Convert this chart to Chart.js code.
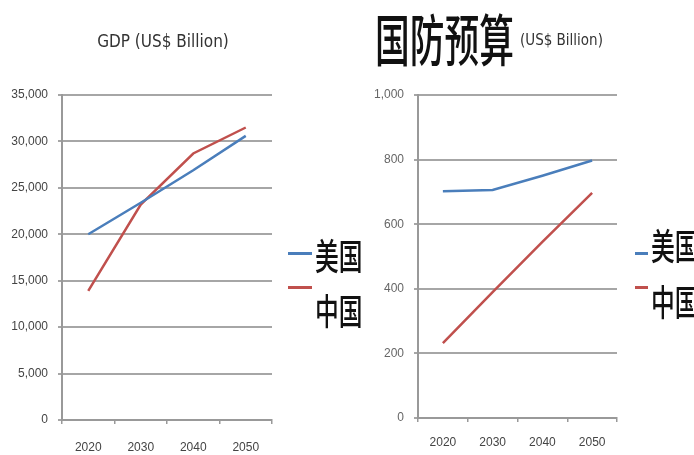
<!DOCTYPE html>
<html>
<head>
<meta charset="utf-8">
<script src="https://cdn.jsdelivr.net/npm/chart.js@4.4.1/dist/chart.umd.min.js"></script>
<style>
  html, body { margin:0; padding:0; width:694px; height:455px; overflow:hidden; background:#fff; }
  .abs { position:absolute; }
  #c1wrap { left:0; top:0; width:350px; height:455px; }
  #c2wrap { left:350px; top:0; width:344px; height:455px; }
  .narrow { font-family:'Liberation Sans Narrow','DejaVu Sans Condensed','Liberation Sans',sans-serif; }
  .cjk { font-family:'Noto Sans CJK SC','Noto Sans CJK JP',sans-serif; line-height:1; white-space:nowrap; transform-origin:left top; }
  .lg { height:3px; width:24px; }
</style>
</head>
<body>
<div id="c1wrap" class="abs"><canvas id="c1" width="350" height="455"></canvas></div>
<div id="c2wrap" class="abs"><canvas id="c2" width="344" height="455"></canvas></div>

<div class="abs narrow" style="left:0;width:326px;top:31px;text-align:center;font-size:17px;color:#333;">GDP (US$ Billion)</div>
<div class="abs cjk" style="left:375px;top:9px;font-size:56px;font-weight:500;color:#111;transform:scaleX(0.62);">国防预算</div>
<div class="abs narrow" style="left:520px;top:31px;font-size:15px;color:#333;">(US$ Billion)</div>

<div class="abs lg" style="left:288px;top:252px;background:#4A7EBB;"></div>
<div class="abs cjk" style="left:315px;top:236px;font-size:36px;font-weight:500;color:#111;transform:scaleX(0.66);">美国</div>
<div class="abs lg" style="left:288px;top:286px;background:#C0504D;"></div>
<div class="abs cjk" style="left:315px;top:291px;font-size:36px;font-weight:500;color:#111;transform:scaleX(0.66);">中国</div>

<div class="abs lg" style="left:635px;top:252px;width:13px;background:#4A7EBB;"></div>
<div class="abs cjk" style="left:651px;top:226px;font-size:36px;font-weight:500;color:#111;transform:scaleX(0.66);">美国</div>
<div class="abs lg" style="left:635px;top:286px;width:13px;background:#C0504D;"></div>
<div class="abs cjk" style="left:651px;top:282px;font-size:36px;font-weight:500;color:#111;transform:scaleX(0.66);">中国</div>

<script>
const years = ['2020', '2030', '2040', '2050'];
const seriesNames = ['美国', '中国'];
const gdpUS = [20000, 23400, 26900, 30600];
const gdpCN = [13900, 23200, 28700, 31500];
const defUS = [702, 706, 750, 797];
const defCN = [232, 390, 545, 697];
const gdpTicks = { min: 0, max: 35000, step: 5000 };
const defTicks = { min: 0, max: 1000, step: 200 };

const BLUE = '#4A7EBB', RED = '#C0504D';
const tickFont = { family: "'Liberation Sans','Arial',sans-serif", size: 12 };

function makeChart(id, us, cn, ticks, cfg) {
  return new Chart(document.getElementById(id), {
    type: 'line',
    data: {
      labels: years,
      datasets: [
        { label: seriesNames[0], data: us, borderColor: BLUE, borderWidth: 2.5, pointRadius: 0, tension: 0, fill: false },
        { label: seriesNames[1], data: cn, borderColor: RED, borderWidth: 2.5, pointRadius: 0, tension: 0, fill: false }
      ]
    },
    options: {
      responsive: false,
      animation: false,
      layout: { padding: { left: 0, top: cfg.top, right: cfg.right, bottom: 0 } },
      plugins: { legend: { display: false }, tooltip: { enabled: false }, title: { display: false } },
      scales: {
        x: {
          offset: true,
          grid: { offset: true, drawOnChartArea: false, drawTicks: true, tickLength: 4, color: '#999', lineWidth: 1.5 },
          border: { display: true, color: '#999', width: 2 },
          ticks: { color: '#444', font: tickFont, padding: cfg.xpad, maxRotation: 0 },
          afterFit: s => { s.height = cfg.xh; }
        },
        y: {
          min: ticks.min, max: ticks.max,
          grid: { color: '#a6a6a6', lineWidth: 2, drawTicks: true, tickLength: 4 },
          border: { display: true, color: '#999', width: 2 },
          ticks: { stepSize: ticks.step, color: cfg.ycolor, font: tickFont, padding: cfg.ypad },
          afterFit: s => { s.width = cfg.yw; }
        }
      }
    }
  });
}

makeChart('c1', gdpUS, gdpCN, gdpTicks, { top: 95, right: 78, xh: 35, yw: 62, xpad: 16, ypad: 10, ycolor: '#444' });
makeChart('c2', defUS, defCN, defTicks, { top: 95, right: 77, xh: 37, yw: 68, xpad: 13, ypad: 10, ycolor: '#666' });
</script>
</body>
</html>
